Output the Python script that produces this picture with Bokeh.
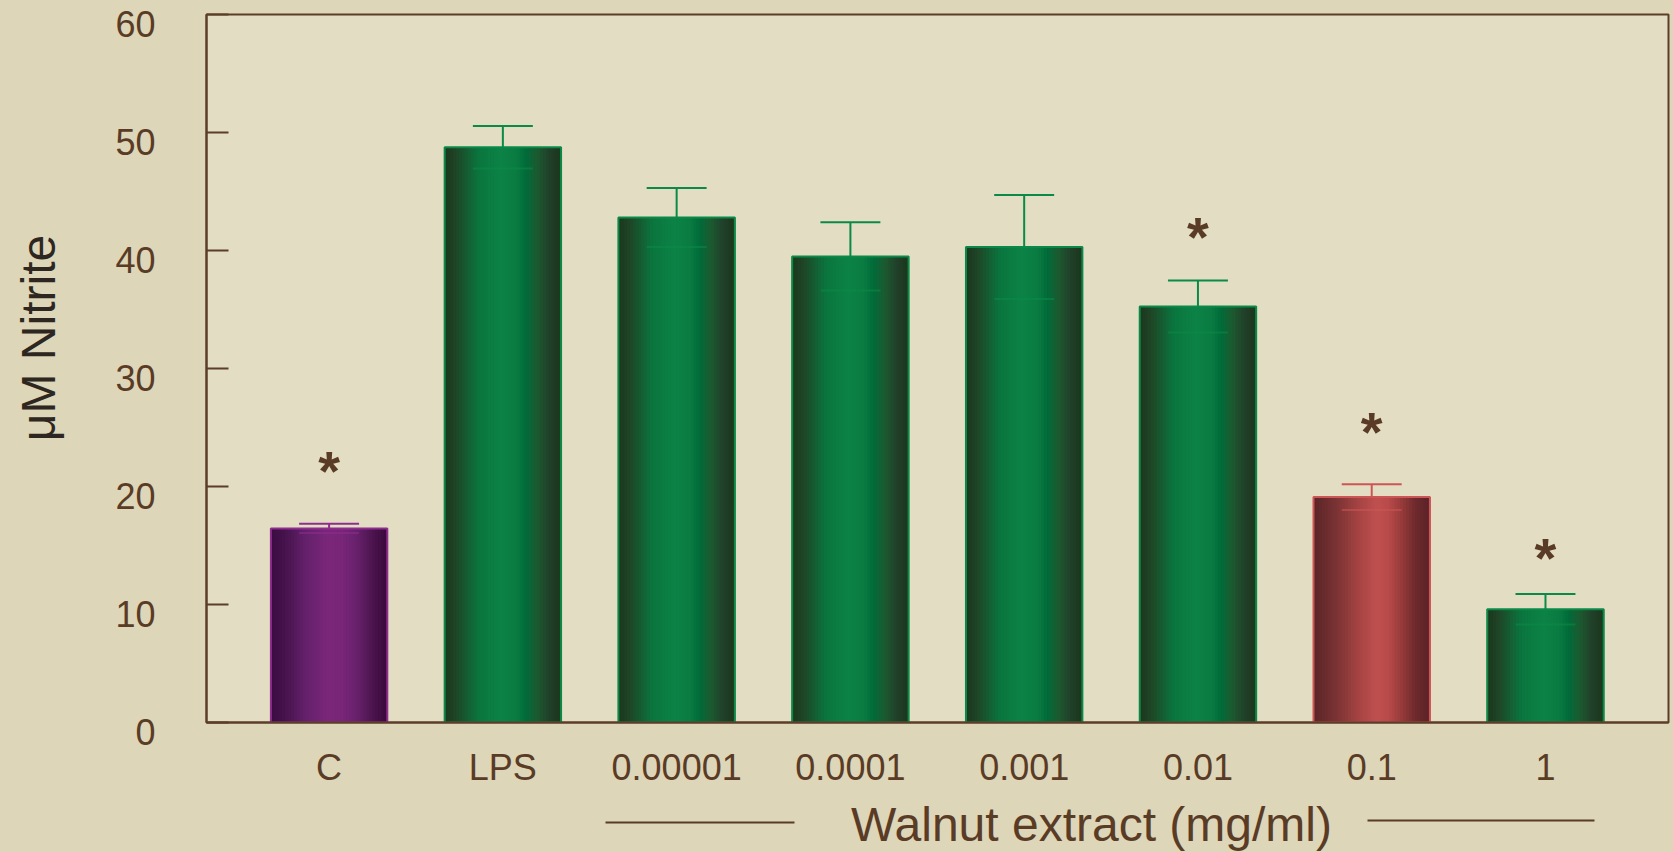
import numpy as np
from bokeh.plotting import figure
from bokeh.models import Range1d, FixedTicker
from bokeh.layouts import column, row
from bokeh.core.properties import value
from bokeh.embed import file_html
from bokeh.resources import INLINE

# ---------------- data ----------------
categories = ["C", "LPS", "0.00001", "0.0001", "0.001", "0.01", "0.1", "1"]
nitrite = [16.45, 48.75, 42.8, 39.5, 40.3, 35.25, 19.1, 9.6]
sem = [0.4, 1.8, 2.5, 2.9, 4.4, 2.2, 1.1, 1.3]
star_categories = ["C", "0.01", "0.1", "1"]
star_y = [22.1, 41.9, 25.4, 14.7]
y_ticks = [0, 10, 20, 30, 40, 50, 60]
y_title = "μM Nitrite"
x_title = "Walnut extract (mg/ml)"

# ---------------- styles ----------------
bar_styles = ["purple", "green", "green", "green", "green", "green", "red", "green"]
GRADS = {
    "green": ([0.0, 0.1, 0.3, 0.48, 0.62, 0.7, 0.8, 0.9, 1.0],
              ["#1b361d", "#1f4526", "#0a763f", "#0c8246", "#0a7c42", "#016b39", "#1c5a30", "#21402a", "#1b371c"]),
    "purple": ([0.0, 0.15, 0.3, 0.48, 0.6, 0.72, 0.82, 0.92, 1.0],
               ["#3a0b40", "#4a1550", "#63216b", "#7a2679", "#7a2678", "#6c2270", "#571a5a", "#451046", "#3a0a3c"]),
    "red": ([0.0, 0.2, 0.4, 0.55, 0.65, 0.75, 0.88, 1.0],
            ["#5a2427", "#7a3334", "#a84444", "#c05050", "#b84a4a", "#9a3c3c", "#6e2a2c", "#5a2327"]),
}
EDGE = {"green": "#0b8a47", "purple": "#8e2d8e", "red": "#cc5656"}
BROWN = "#5a3c26"
AXIS_BROWN = "#5c3d28"
OUTER_BG = "#ddd6b8"
PLOT_BG = "#e3ddc4"
FONT = "Liberation Sans"

BAR_W = 0.67
CAP_W = 0.345
N_STRIPS = 40

# ---------------- layout geometry (page pixels) ----------------
TOTAL_W, TOP_H, BOTTOM_H = 1673, 794, 58
LEFT_W = 190
FRAME_L, FRAME_T = 206, 14
FRAME_W, FRAME_H = 1462, 708
FRAME_B = FRAME_T + FRAME_H
MAIN_W = TOTAL_W - LEFT_W
PPX = 173.77
X_START = -0.7055
X_END = X_START + FRAME_W / PPX
Y_START, Y_END = 0, 60
PPY = FRAME_H / (Y_END - Y_START)


def px_to_x(px):
    return X_START + (px - FRAME_L) / PPX


def py_to_y(py):
    return Y_START + (FRAME_B - py) / PPY


def grad_colors(stops, colors, n):
    rgb = np.array([[int(c[k:k + 2], 16) for k in (1, 3, 5)] for c in colors], dtype=float)
    ts = (np.arange(n) + 0.5) / n
    out = []
    for t in ts:
        r = np.interp(t, stops, rgb[:, 0])
        g = np.interp(t, stops, rgb[:, 1])
        b = np.interp(t, stops, rgb[:, 2])
        out.append("#%02x%02x%02x" % (int(round(r)), int(round(g)), int(round(b))))
    return out


def no_align(f):
    if "frame_align" in f.properties():
        f.frame_align = False
    return f


def bare_fig(w, h, xr, yr):
    f = figure(width=w, height=h, x_range=xr, y_range=yr, output_backend="svg",
               toolbar_location=None, x_axis_type=None, y_axis_type=None,
               min_border_left=0, min_border_right=0, min_border_top=0, min_border_bottom=0)
    f.outline_line_color = None
    f.background_fill_color = OUTER_BG
    f.border_fill_color = OUTER_BG
    f.xgrid.visible = False
    f.ygrid.visible = False
    return no_align(f)


# ---------------- main chart ----------------
p = figure(width=MAIN_W, height=TOP_H,
           x_range=Range1d(X_START, X_END), y_range=Range1d(Y_START, Y_END),
           output_backend="svg", toolbar_location=None,
           min_border_left=FRAME_L - LEFT_W, min_border_top=FRAME_T,
           min_border_right=MAIN_W - (FRAME_L - LEFT_W) - FRAME_W,
           min_border_bottom=TOP_H - FRAME_T - FRAME_H)
no_align(p)
p.background_fill_color = PLOT_BG
p.border_fill_color = OUTER_BG
p.outline_line_color = AXIS_BROWN
p.outline_line_width = 2
p.xgrid.visible = False
p.ygrid.visible = False

xs = list(range(len(categories)))
sx, stop, scol = [], [], []
for i, (v, st) in enumerate(zip(nitrite, bar_styles)):
    cols = grad_colors(GRADS[st][0], GRADS[st][1], N_STRIPS)
    for j in range(N_STRIPS):
        sx.append(xs[i] - BAR_W / 2 + (j + 0.5) * BAR_W / N_STRIPS)
        stop.append(v)
        scol.append(cols[j])
p.vbar(x=sx, top=stop, bottom=0, width=BAR_W / N_STRIPS * 1.3, fill_color=scol, line_color=None)

edge_cols = [EDGE[s] for s in bar_styles]
p.vbar(x=xs, top=nitrite, bottom=0, width=BAR_W, fill_color=None, line_color=edge_cols, line_width=2)

upper = [v + e for v, e in zip(nitrite, sem)]
lower = [v - e for v, e in zip(nitrite, sem)]
p.segment(x0=xs, y0=nitrite, x1=xs, y1=upper, line_color=edge_cols, line_width=2)
p.segment(x0=[x - CAP_W / 2 for x in xs], y0=upper, x1=[x + CAP_W / 2 for x in xs], y1=upper,
          line_color=edge_cols, line_width=2)
p.segment(x0=[x - CAP_W / 2 for x in xs], y0=lower, x1=[x + CAP_W / 2 for x in xs], y1=lower,
          line_color=edge_cols, line_width=2, line_alpha=0.55)

STAR_SIZE = 56
star_x = [categories.index(c) for c in star_categories]
p.text(x=star_x, y=[s - 8.5 / PPY for s in star_y], text=["*"] * len(star_x),
       text_font=value(FONT), text_font_style="bold", text_font_size=f"{STAR_SIZE}px",
       text_align="center", text_baseline="middle", text_color=BROWN)

p.xaxis.ticker = FixedTicker(ticks=xs)
p.xaxis.major_label_overrides = {i: c for i, c in enumerate(categories)}
p.xaxis.major_tick_in = 0
p.xaxis.major_tick_out = 0
p.xaxis.minor_tick_line_color = None
p.xaxis.axis_line_color = AXIS_BROWN
p.xaxis.axis_line_width = 2
p.xaxis.major_label_text_font = FONT
p.xaxis.major_label_text_font_size = "36px"
p.xaxis.major_label_text_color = BROWN
p.xaxis.major_label_standoff = 24

p.yaxis.ticker = FixedTicker(ticks=y_ticks)
p.yaxis.major_label_overrides = {t: "" for t in y_ticks}
p.yaxis.major_label_standoff = 0
p.yaxis.major_tick_in = 22
p.yaxis.major_tick_out = 0
p.yaxis.major_tick_line_color = AXIS_BROWN
p.yaxis.major_tick_line_width = 2
p.yaxis.minor_tick_line_color = None
p.yaxis.axis_line_color = AXIS_BROWN
p.yaxis.axis_line_width = 2

# ---------------- left strip: y tick labels and y title ----------------
left = bare_fig(LEFT_W, TOP_H, Range1d(0, LEFT_W), Range1d(py_to_y(TOP_H), py_to_y(0)))
left.text(x=[155] * len(y_ticks), y=[t - 9.5 / PPY for t in y_ticks], text=[str(t) for t in y_ticks],
          text_font=value(FONT), text_font_size="36px", text_align="right", text_baseline="middle",
          text_color=BROWN)
left.text(x=[38], y=[py_to_y(337.5)], text=[y_title], angle=np.pi / 2,
          text_font=value(FONT), text_font_size="48px", text_align="center", text_baseline="middle",
          text_color="#2e2620")

# ---------------- bottom strip: x title with flanking rules ----------------
bottom = bare_fig(TOTAL_W, BOTTOM_H, Range1d(px_to_x(0), px_to_x(TOTAL_W)),
                  Range1d(TOP_H + BOTTOM_H, TOP_H))
bottom.text(x=[px_to_x(1091)], y=[824], text=[x_title], text_font=value(FONT),
            text_font_size="48px", text_align="center", text_baseline="middle", text_color=BROWN)
bottom.segment(x0=[px_to_x(605), px_to_x(1367)], y0=[822, 820],
               x1=[px_to_x(794), px_to_x(1594)], y1=[822, 820], line_color=BROWN, line_width=2)

bg_style = {"background-color": OUTER_BG}
layout = column(row(left, p, spacing=0, styles=bg_style), bottom, spacing=0, styles=bg_style)
open("out.html", "w").write(file_html(layout, INLINE))
